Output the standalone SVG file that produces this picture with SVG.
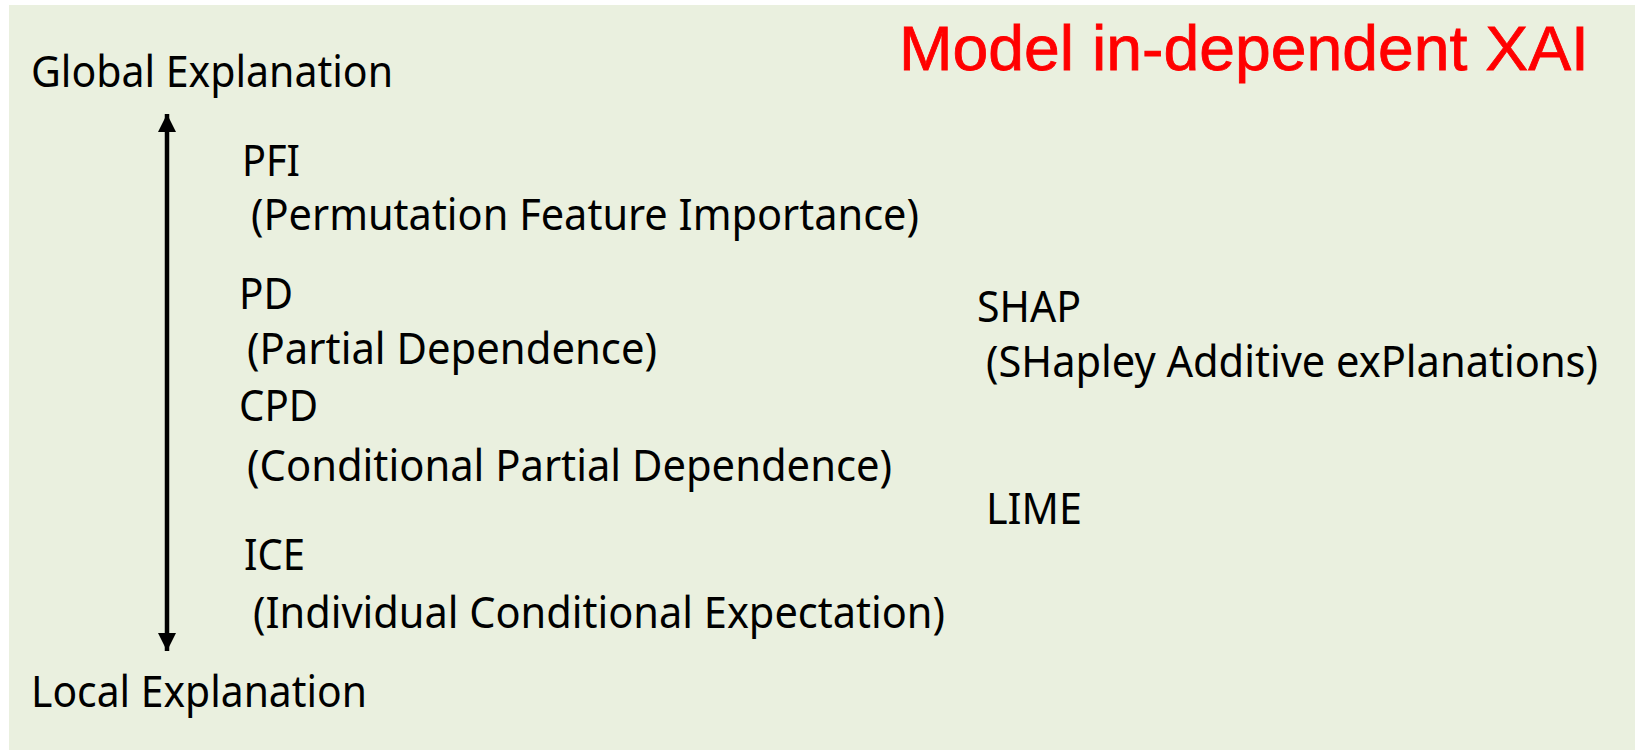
<svg xmlns="http://www.w3.org/2000/svg" width="1635" height="750" viewBox="0 0 1635 750">
  <style>
    .t { font-family: "Noto Sans", "Open Sans", sans-serif; font-size: 43px; fill: #000000; }
    .title { font-family: "Liberation Sans", Arial, sans-serif; font-size: 63px; fill: #FF0000; stroke: #FF0000; stroke-width: 0.8; }
    .axis { stroke: #000000; stroke-width: 4.5; fill: none; }
  </style>
  <defs>
    <marker id="ah" markerUnits="userSpaceOnUse" markerWidth="18" markerHeight="18" viewBox="0 0 16 16" refX="16" refY="8" orient="auto-start-reverse">
      <path d="M0,0 L16,8 L0,16 Z" fill="#000000"/>
    </marker>
  </defs>
  <rect x="0" y="0" width="1635" height="750" fill="#FFFFFF"/>
  <rect id="background" x="9" y="5" width="1626" height="745" fill="#EAF0DF"/>

  <g id="title">
    <text class="title" x="899" y="70" textLength="690" lengthAdjust="spacingAndGlyphs">Model in-dependent XAI</text>
  </g>

  <g id="connectors">
    <line class="axis" x1="167" y1="114" x2="167" y2="651" marker-start="url(#ah)" marker-end="url(#ah)"/>
  </g>

  <g id="global">
    <text class="t" x="31" y="87" textLength="362" lengthAdjust="spacingAndGlyphs">Global Explanation</text>
  </g>
  <g id="local">
    <text class="t" x="31" y="707" textLength="336" lengthAdjust="spacingAndGlyphs">Local Explanation</text>
  </g>

  <g id="pfi">
    <text class="t" x="242" y="176" textLength="58" lengthAdjust="spacingAndGlyphs">PFI</text>
    <text class="t" x="251" y="230" textLength="668" lengthAdjust="spacingAndGlyphs">(Permutation Feature Importance)</text>
  </g>
  <g id="pd">
    <text class="t" x="239" y="309" textLength="54" lengthAdjust="spacingAndGlyphs">PD</text>
    <text class="t" x="247" y="364" textLength="410" lengthAdjust="spacingAndGlyphs">(Partial Dependence)</text>
  </g>
  <g id="cpd">
    <text class="t" x="239" y="421" textLength="79" lengthAdjust="spacingAndGlyphs">CPD</text>
    <text class="t" x="247" y="481" textLength="645" lengthAdjust="spacingAndGlyphs">(Conditional Partial Dependence)</text>
  </g>
  <g id="ice">
    <text class="t" x="244" y="570" textLength="61" lengthAdjust="spacingAndGlyphs">ICE</text>
    <text class="t" x="253" y="628" textLength="692" lengthAdjust="spacingAndGlyphs">(Individual Conditional Expectation)</text>
  </g>
  <g id="shap">
    <text class="t" x="977" y="322" textLength="104" lengthAdjust="spacingAndGlyphs">SHAP</text>
    <text class="t" x="986" y="377" textLength="612" lengthAdjust="spacingAndGlyphs">(SHapley Additive exPlanations)</text>
  </g>
  <g id="lime">
    <text class="t" x="986" y="524" textLength="96" lengthAdjust="spacingAndGlyphs">LIME</text>
  </g>
</svg>
